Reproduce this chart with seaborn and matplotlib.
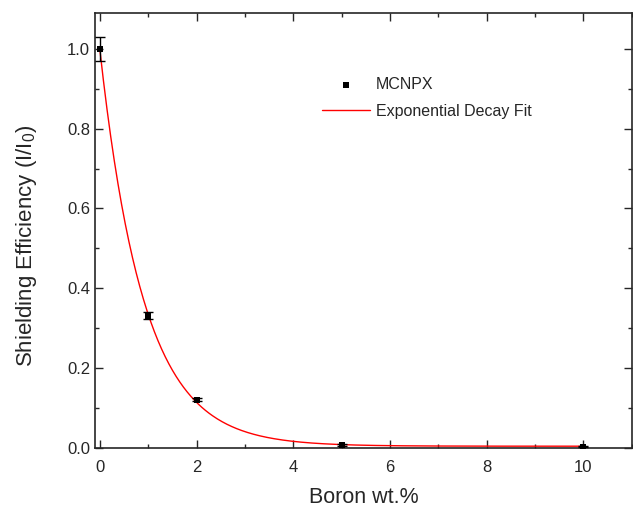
import numpy as np
import pandas as pd
import matplotlib
matplotlib.use('Agg')
import matplotlib.pyplot as plt
from matplotlib.ticker import MultipleLocator
import seaborn as sns

# MCNPX results
boron = [0, 1, 2, 5, 10]
eff = [1.0, 0.331, 0.121, 0.007, 0.003]
eff_err = [0.030, 0.009, 0.004, 0.002, 0.001]

# -----------------------

sns.set_style('ticks')
plt.rcParams['font.family'] = ['Liberation Sans', 'DejaVu Sans']
plt.rcParams['xtick.direction'] = 'in'
plt.rcParams['ytick.direction'] = 'in'

df = pd.DataFrame({'boron': boron, 'eff': eff, 'err': eff_err})

# exponential decay fit y = y0 + A*exp(-x/t): scan t, A and y0 by least squares
x = df['boron'].values
y = df['eff'].values
best = None
for t in np.linspace(0.5, 1.5, 2001):
	M = np.column_stack([np.exp(-x / t), np.ones_like(x, dtype=float)])
	coef, res, _, _ = np.linalg.lstsq(M, y, rcond=None)
	r = np.sum((y - M @ coef) ** 2)
	if best is None or r < best[0]:
		best = (r, coef, t)
_, (A, y0), t = best

xf = np.linspace(0, 10, 400)
fit = pd.DataFrame({'boron': xf, 'eff': y0 + A * np.exp(-xf / t)})

# -----------------------

fig = plt.figure(figsize=(6.33, 5.12), dpi=100)
ax = fig.add_axes([0.150, 0.125, 0.848, 0.850])

sns.lineplot(data=fit, x='boron', y='eff', color='red', lw=1,
	ax=ax, label='Exponential Decay Fit', zorder=2)
ax.errorbar(df['boron'], df['eff'], yerr=df['err'], fmt='none',
	ecolor='black', elinewidth=1, capsize=3.8, capthick=1, zorder=3)
sns.scatterplot(data=df, x='boron', y='eff', color='black', marker='s',
	s=22, edgecolor='black', linewidth=0, ax=ax, label='MCNPX', zorder=4)

ax.set_xlim(-0.1, 11)
ax.set_ylim(0, 1.09)
ax.xaxis.set_major_locator(MultipleLocator(2))
ax.xaxis.set_minor_locator(MultipleLocator(1))
ax.yaxis.set_major_locator(MultipleLocator(0.2))
ax.yaxis.set_minor_locator(MultipleLocator(0.1))
ax.yaxis.set_major_formatter(plt.FormatStrFormatter('%.1f'))
ax.tick_params(which='both', top=True, right=True, labelsize=12, width=1)
ax.tick_params(which='major', length=6)
ax.tick_params(axis='x', which='major', pad=9)
ax.tick_params(which='minor', length=3)
for s in ax.spines.values():
	s.set_linewidth(1.2)

ax.set_xlabel('Boron wt.%', fontsize=15.5, labelpad=8)
ax.set_ylabel('Shielding Efficiency (I/I$_\\mathregular{0}$)', fontsize=16, labelpad=20)
ax.yaxis.label.set_y(0.465)

h, l = ax.get_legend_handles_labels()
order = [l.index('MCNPX'), l.index('Exponential Decay Fit')]
ax.legend([h[i] for i in order], [l[i] for i in order], frameon=False,
	fontsize=11.5, loc='upper left', bbox_to_anchor=(0.397, 0.886),
	handlelength=3.0, handletextpad=0.35, labelspacing=0.75)

plt.savefig('out.png', dpi=100)
